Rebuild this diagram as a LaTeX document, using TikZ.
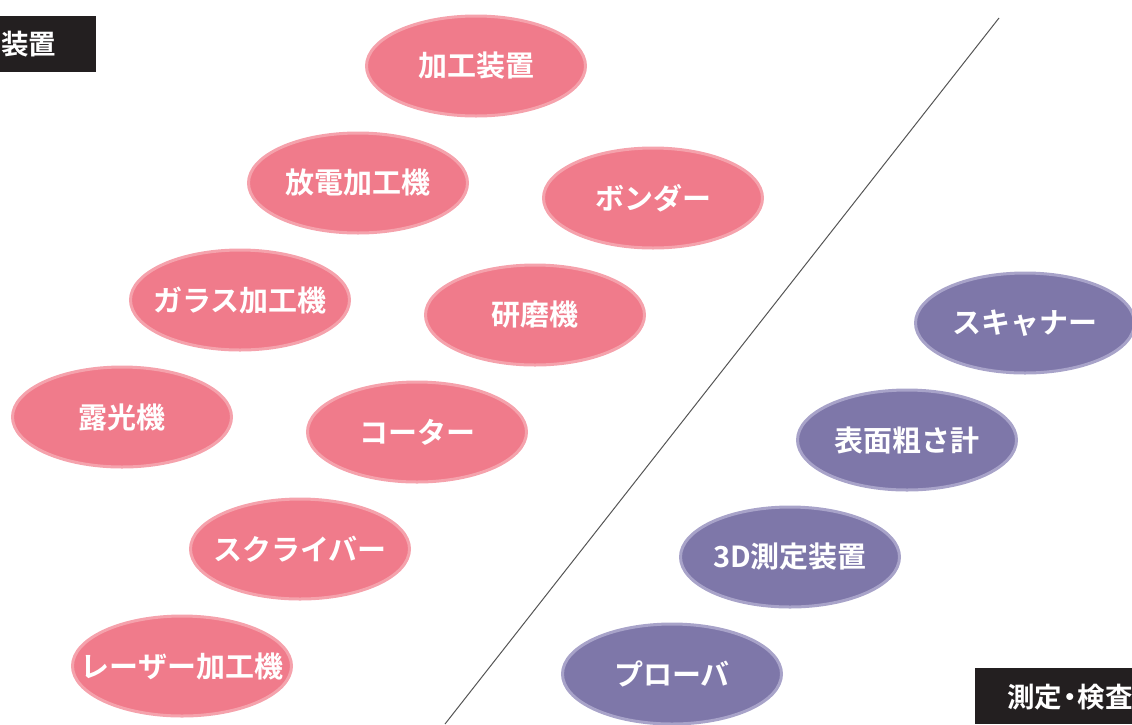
\documentclass[tikz,border=0pt]{standalone}
\usepackage{fontspec}
\newfontfamily\jpb{Noto Sans CJK JP Bold}
\usetikzlibrary{shapes.geometric}
\definecolor{pinkfill}{HTML}{F07B8B}
\definecolor{pinkline}{HTML}{F5A2AC}
\definecolor{purpfill}{HTML}{7E77A9}
\definecolor{purpline}{HTML}{A8A3C9}
\definecolor{tagbg}{HTML}{231F20}
\definecolor{divline}{HTML}{555555}
\newcommand{\zw}[1]{\makebox[0pt][c]{#1}}
\tikzset{
  oval/.style={ellipse, minimum width=219pt, minimum height=100pt, line width=3pt, inner sep=0pt,
    text=white, font=\jpb\fontsize{29}{32}\selectfont},
  pinkoval/.style={oval, fill=pinkfill, draw=pinkline},
  purpoval/.style={oval, fill=purpfill, draw=purpline},
  tag/.style={fill=tagbg, inner sep=0pt},
  tagtext/.style={text=white, font=\jpb\fontsize{27.5}{30}\selectfont, anchor=west, inner sep=0pt}
}
\begin{document}
\begin{tikzpicture}[x=1pt,y=-1pt]
\useasboundingbox (0,0) rectangle (1132,724);
\clip (0,0) rectangle (1132,724);
% divider
\coordinate (lt) at (999,18);
\coordinate (lb) at (445,724);
\draw[divline, line width=1pt] (lt) -- (lb);
% tags
\node[tag, minimum width=110pt, minimum height=56pt] (tagL) at (41,44) {};
\node[tagtext] (tagLt) at (1,44) {装置};
\node[tag, minimum width=180pt, minimum height=56pt, anchor=north west] (tagR) at (975,668) {};
\node[tagtext] (tagRt) at (1007,697) {測定\kern-6pt・\kern-6pt検査};
% pink ovals
\node[pinkoval] (a1) at (476,66) {\zw{加工装置}};
\node[pinkoval] (a2) at (358,183) {\zw{放電加工機}};
\node[pinkoval] (a3) at (653,198) {\zw{ボンダー}};
\node[pinkoval] (a4) at (240,300) {\zw{ガラス加工機}};
\node[pinkoval] (a5) at (535,315) {\zw{研磨機}};
\node[pinkoval] (a6) at (122,417) {\zw{露光機}};
\node[pinkoval] (a7) at (417,432) {\zw{コーター}};
\node[pinkoval] (a8) at (300,549) {\zw{スクライバー}};
\node[pinkoval] (a9) at (182,666) {\zw{レーザー加工機}};
% purple ovals
\node[purpoval] (b1) at (1025,323) {\zw{スキャナー}};
\node[purpoval] (b2) at (907,440) {\zw{表面粗さ計}};
\node[purpoval] (b3) at (790,557) {\zw{3D測定装置}};
\node[purpoval] (b4) at (672,674) {\zw{プローバ}};
\end{tikzpicture}
\end{document}
